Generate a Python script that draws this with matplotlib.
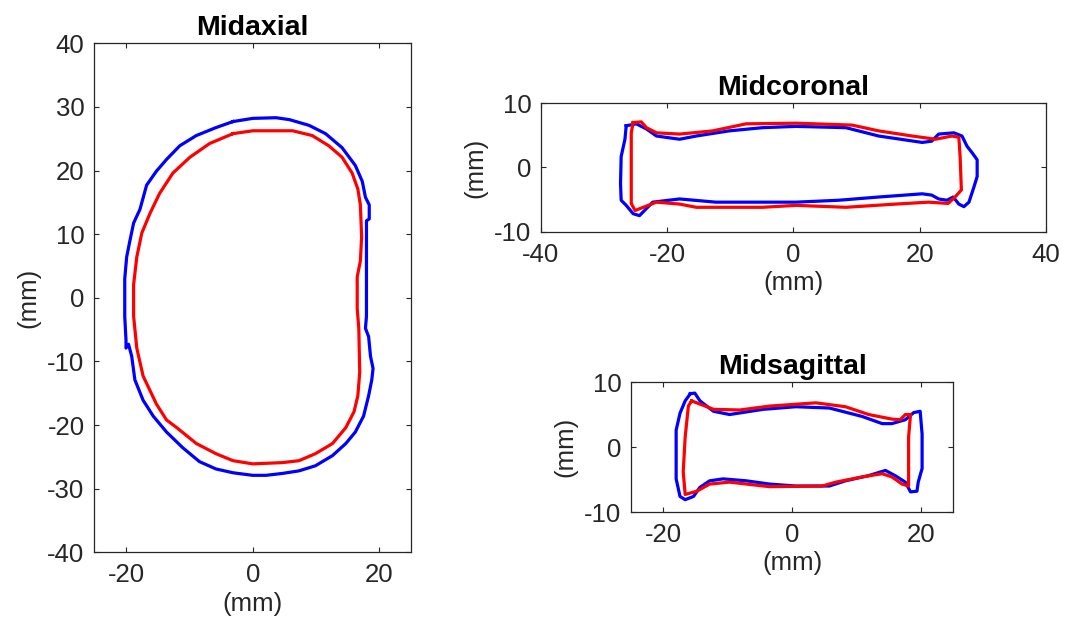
import numpy as np
import matplotlib
matplotlib.use('Agg')
import matplotlib.pyplot as plt

plt.rcParams['font.family'] = ['Liberation Sans', 'DejaVu Sans']
plt.rcParams['axes.unicode_minus'] = False

# contour outlines (mm)
axial_blue_x = [-3.1, 0, 3.7, 5.8, 8.9, 11.5, 14.1, 16.2, 17.3, 17.8, 18.4, 18.4, 17.96, 17.96, 17.8, 18.3,
                18.6, 19.0, 18.8, 18.3, 17.5, 16.2, 14.7, 12.6, 9.9, 7.3, 4.7, 2.1, 0, -3.1, -5.8, -8.4,
                -11, -13.6, -15.7, -17.3, -18.6, -19.1, -19.6, -20, -20, -20.2, -20.2, -19.9, -19.4,
                -18.8, -17.8, -16.75, -15.2, -13.6, -11.5, -8.9, -5.8, -3.1]
axial_blue_y = [27.7, 28.2, 28.3, 28, 27.1, 25.8, 23.6, 20.8, 18.3, 15.8, 14.6, 12.4, 12.1, -2.9, -4.8, -6.1,
                -9.2, -11.1, -12.9, -15.4, -18.6, -21.1, -22.9, -24.8, -26.4, -27.2, -27.6, -27.9, -27.9,
                -27.5, -26.9, -25.75, -23.6, -21.1, -18.6, -16.1, -12.9, -9.2, -7.3, -7.9, -6.7, -2.9, 3,
                6.4, 8.9, 11.75, 13.9, 17.7, 19.9, 21.75, 23.9, 25.5, 26.75, 27.7]
axial_red_x = [-3.1, 0, 6.3, 9.4, 12.0, 14.1, 15.7, 16.6, 17.0, 17.2, 17.0, 16.5, 16.5, 16.75, 16.9, 16.6,
               16.0, 14.7, 12.6, 9.9, 7.3, 4.7, 0, -3.1, -5.8, -8.9, -12.0, -13.6, -15.2, -17.3, -18.3,
               -18.8, -18.8, -18.3, -17.5, -16.2, -14.7, -12.6, -9.9, -6.8, -3.1]
axial_red_y = [25.8, 26.25, 26.25, 25.5, 23.9, 22.1, 19.6, 17.1, 14.6, 9.6, 5.8, 3.3, -1.7, -4.8, -11.7,
               -15.4, -17.9, -20.4, -22.9, -24.5, -25.6, -25.9, -26.1, -25.6, -24.5, -22.9, -20.4, -19.2,
               -16.7, -12.3, -7.9, -2.9, 2.1, 6.4, 10.2, 13.3, 16.4, 19.6, 22.1, 24.25, 25.8]

coronal_blue_x = [-26.5, -26.7, -27.3, -27.4, -27.3, -26.5, -25.4, -24.4, -23.6, -22.3, -18.05, -12.3, 0.4,
                  7.2, 13.5, 20.4, 21.9, 23, 24.3, 25.3, 26.2, 27, 27.8, 28.6, 29.1, 29.1, 28.3, 27.5,
                  26.7, 25.4, 23, 21.9, 20.4, 13.5, 8.3, 0.4, -4.9, -10.2, -15.4, -18.05, -21.7, -23.3,
                  -24.9, -26.5]
coronal_blue_y = [6.5, 4.4, 1.7, -2.5, -5.1, -5.9, -7.2, -7.5, -6.7, -5.4, -4.9, -5.4, -5.4, -5.1, -4.6,
                  -4.1, -4.3, -4.9, -5.1, -4.6, -5.7, -6.1, -5.4, -3.0, -1.4, 1.2, 2.3, 3.3, 4.9, 5.4, 5.2,
                  4.1, 3.9, 4.9, 6.2, 6.4, 6.2, 5.7, 4.9, 4.4, 4.9, 6.0, 6.8, 6.5]
coronal_red_x = [-25.4, -24.1, -23.3, -21.7, -18.05, -12.8, -7.5, 0.4, 9.3, 13.5, 18.8, 22.5, 25.1, 26.2,
                 26.4, 26.6, 25.6, 24.5, 21.4, 16.2, 8.3, 0.4, -4.9, -15.4, -18.05, -21.7, -23.8, -25.1,
                 -25.7, -25.7, -25.7, -25.4]
coronal_red_y = [7.0, 7.1, 6.2, 5.4, 5.2, 5.7, 6.8, 6.9, 6.6, 5.7, 4.9, 4.4, 4.9, 4.7, 1.7, -3.5, -4.6,
                 -5.6, -5.4, -5.7, -6.2, -5.9, -6.2, -6.2, -5.7, -5.4, -6.2, -6.7, -5.6, 1.7, 5.4, 7.0]

sagittal_blue_x = [-15.8, -15.1, -14.3, -12.2, -9.7, -4.5, 0.6, 5.8, 10.9, 14.0, 15.5, 17.6, 18.9, 19.9,
                   20.2, 20.2, 19.6, 19.4, 18.4, 17.6, 16.0, 14.5, 11.9, 8.3, 5.8, 0.6, -3.5, -7.1, -10.7,
                   -12.8, -14.3, -15.3, -16.6, -17.4, -18.0, -18.0, -17.4, -16.6, -15.8]
sagittal_blue_y = [8.2, 8.3, 7.1, 5.5, 5.0, 5.8, 6.2, 6.0, 4.7, 3.6, 3.6, 4.2, 5.3, 5.5, 2.0, -3.3, -5.4,
                   -6.8, -6.9, -5.4, -4.4, -3.6, -4.4, -5.2, -6.0, -6.0, -5.7, -5.2, -4.9, -5.2, -6.2,
                   -7.6, -8.1, -7.6, -4.9, 2.6, 5.2, 7.1, 8.2]
sagittal_red_x = [-15.6, -14.8, -12.2, -8.1, -3.5, 3.7, 8.3, 11.9, 15.5, 16.8, 17.6, 18.4, 18.1, 18.1,
                  17.1, 15.5, 14.0, 10.9, 6.8, 4.7, -3.5, -9.7, -12.8, -14.8, -16.6, -16.9, -16.6, -16.1,
                  -15.6]
sagittal_red_y = [7.1, 6.8, 5.8, 5.7, 6.3, 6.8, 6.2, 5.0, 4.3, 4.2, 5.0, 5.0, 1.5, -6.0, -5.7, -4.6, -4.1,
                  -4.6, -5.4, -6.0, -6.1, -5.4, -5.7, -6.8, -7.3, -3.8, 1.5, 6.3, 7.1]

fig = plt.figure(figsize=(10.66, 6.21), dpi=100)

def style(ax, title, xlim, ylim, xt, yt):
    ax.set_xlim(xlim)
    ax.set_ylim(ylim)
    ax.set_xticks(xt)
    ax.set_yticks(yt)
    ax.tick_params(direction='in', top=True, right=True, labelsize=18.5, length=3.5,
                   color='#262626', labelcolor='#262626')
    ax.tick_params(axis='x', pad=8)
    ax.tick_params(axis='y', pad=7)
    for s in ax.spines.values():
        s.set_color('#262626')
        s.set_linewidth(0.9)
    ax.set_title(title, fontsize=20.5, fontweight='bold', pad=6)
    ax.set_xlabel('(mm)', fontsize=18.5, labelpad=3, color='#262626')
    ax.set_ylabel('(mm)', fontsize=18.5, labelpad=5, color='#262626')

lw = 2.3

ax1 = fig.add_axes([0.0885, 0.1106, 0.2971, 0.8197])
ax1.plot(axial_blue_x, axial_blue_y, color='b', lw=lw)
ax1.plot(axial_red_x, axial_red_y, color='r', lw=lw)
style(ax1, 'Midaxial', (-25, 25), (-40, 40), [-20, 0, 20], np.arange(-40, 41, 10))

ax2 = fig.add_axes([0.5075, 0.6269, 0.4737, 0.2068])
ax2.plot(coronal_blue_x, coronal_blue_y, color='b', lw=lw)
ax2.plot(coronal_red_x, coronal_red_y, color='r', lw=lw)
style(ax2, 'Midcoronal', (-40, 40), (-10, 10), [-40, -20, 0, 20, 40], [-10, 0, 10])

ax3 = fig.add_axes([0.592, 0.1755, 0.302, 0.2093])
ax3.plot(sagittal_blue_x, sagittal_blue_y, color='b', lw=lw)
ax3.plot(sagittal_red_x, sagittal_red_y, color='r', lw=lw)
style(ax3, 'Midsagittal', (-25, 25), (-10, 10), [-20, 0, 20], [-10, 0, 10])

fig.savefig('out.png', dpi=100)
